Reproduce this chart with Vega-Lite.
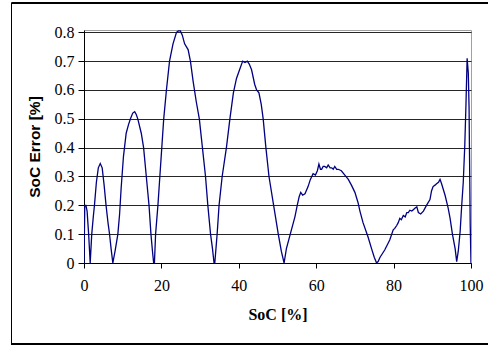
{
  "$schema": "https://vega.github.io/schema/vega-lite/v6.json",
  "width": 387,
  "height": 233,
  "autosize": {"type": "none"},
  "padding": {"left": 84, "top": 30, "right": 17, "bottom": 82},
  "background": "white",
  "config": {
    "view": {"stroke": "#a0a0a0", "strokeWidth": 1},
    "axis": {
      "labelFont": "Liberation Sans Narrow",
      "labelFontSize": 16,
      "labelColor": "#000",
      "domainColor": "#000",
      "tickColor": "#000",
      "titleColor": "#000"
    }
  },
  "data": {
    "values": [
      {"soc": 0, "err": 0}, {"soc": 0.2, "err": 0.2}, {"soc": 0.5, "err": 0.2}, {"soc": 0.8, "err": 0.18},
      {"soc": 1.2, "err": 0.1}, {"soc": 1.6, "err": 0}, {"soc": 2.0, "err": 0.1}, {"soc": 2.4, "err": 0.16},
      {"soc": 2.7, "err": 0.2}, {"soc": 3.2, "err": 0.28}, {"soc": 3.7, "err": 0.33}, {"soc": 4.2, "err": 0.345},
      {"soc": 4.7, "err": 0.33}, {"soc": 5.2, "err": 0.27}, {"soc": 5.7, "err": 0.2}, {"soc": 6.2, "err": 0.14},
      {"soc": 6.6, "err": 0.1}, {"soc": 7.0, "err": 0.05}, {"soc": 7.45, "err": 0}, {"soc": 8.07, "err": 0.045},
      {"soc": 8.75, "err": 0.1}, {"soc": 9.2, "err": 0.17}, {"soc": 9.6, "err": 0.26}, {"soc": 10.2, "err": 0.37},
      {"soc": 10.9, "err": 0.45}, {"soc": 11.5, "err": 0.48}, {"soc": 12.0, "err": 0.5}, {"soc": 12.6, "err": 0.52},
      {"soc": 13.1, "err": 0.525}, {"soc": 13.5, "err": 0.515}, {"soc": 13.9, "err": 0.5}, {"soc": 14.8, "err": 0.45},
      {"soc": 15.4, "err": 0.4}, {"soc": 16.1, "err": 0.3}, {"soc": 16.8, "err": 0.2}, {"soc": 17.3, "err": 0.1},
      {"soc": 17.7, "err": 0.04}, {"soc": 18.0, "err": 0}, {"soc": 18.2, "err": 0}, {"soc": 18.5, "err": 0.1},
      {"soc": 19.1, "err": 0.2}, {"soc": 19.6, "err": 0.3}, {"soc": 20.1, "err": 0.4}, {"soc": 20.6, "err": 0.5},
      {"soc": 21.3, "err": 0.6}, {"soc": 22.1, "err": 0.7}, {"soc": 23.0, "err": 0.76}, {"soc": 23.9, "err": 0.8},
      {"soc": 24.4, "err": 0.805}, {"soc": 24.9, "err": 0.805}, {"soc": 25.4, "err": 0.79}, {"soc": 26.0, "err": 0.76},
      {"soc": 26.9, "err": 0.74}, {"soc": 27.5, "err": 0.7}, {"soc": 28.2, "err": 0.63}, {"soc": 29.0, "err": 0.56},
      {"soc": 29.8, "err": 0.5}, {"soc": 30.6, "err": 0.4}, {"soc": 31.4, "err": 0.3}, {"soc": 32.0, "err": 0.2},
      {"soc": 32.7, "err": 0.1}, {"soc": 33.2, "err": 0.05}, {"soc": 33.6, "err": 0}, {"soc": 33.8, "err": 0},
      {"soc": 34.4, "err": 0.1}, {"soc": 34.9, "err": 0.2}, {"soc": 35.7, "err": 0.3}, {"soc": 36.8, "err": 0.4},
      {"soc": 37.7, "err": 0.5}, {"soc": 38.6, "err": 0.59}, {"soc": 39.4, "err": 0.64}, {"soc": 40.2, "err": 0.67},
      {"soc": 41.0, "err": 0.7}, {"soc": 41.6, "err": 0.695}, {"soc": 42.2, "err": 0.7}, {"soc": 42.7, "err": 0.69},
      {"soc": 43.3, "err": 0.67}, {"soc": 44.1, "err": 0.62}, {"soc": 44.6, "err": 0.6}, {"soc": 45.2, "err": 0.59},
      {"soc": 45.8, "err": 0.55}, {"soc": 46.3, "err": 0.5}, {"soc": 47.0, "err": 0.4}, {"soc": 47.8, "err": 0.3},
      {"soc": 49.0, "err": 0.2}, {"soc": 50.2, "err": 0.1}, {"soc": 51.0, "err": 0.04}, {"soc": 51.7, "err": 0},
      {"soc": 52.3, "err": 0.05}, {"soc": 53.3, "err": 0.1}, {"soc": 54.5, "err": 0.16}, {"soc": 55.1, "err": 0.2},
      {"soc": 55.6, "err": 0.23}, {"soc": 56.0, "err": 0.245}, {"soc": 56.5, "err": 0.235}, {"soc": 57.1, "err": 0.24},
      {"soc": 57.9, "err": 0.265}, {"soc": 58.5, "err": 0.29}, {"soc": 59.2, "err": 0.31}, {"soc": 59.8, "err": 0.305},
      {"soc": 60.3, "err": 0.32}, {"soc": 60.7, "err": 0.343}, {"soc": 61.1, "err": 0.325}, {"soc": 61.4, "err": 0.325},
      {"soc": 61.8, "err": 0.335}, {"soc": 62.2, "err": 0.335}, {"soc": 62.7, "err": 0.33}, {"soc": 63.1, "err": 0.34},
      {"soc": 63.6, "err": 0.33}, {"soc": 64.0, "err": 0.33}, {"soc": 64.4, "err": 0.325}, {"soc": 64.8, "err": 0.335},
      {"soc": 65.3, "err": 0.325}, {"soc": 65.7, "err": 0.325}, {"soc": 66.5, "err": 0.32}, {"soc": 67.4, "err": 0.305},
      {"soc": 68.3, "err": 0.29}, {"soc": 69.1, "err": 0.27}, {"soc": 70.0, "err": 0.245}, {"soc": 70.8, "err": 0.21},
      {"soc": 71.3, "err": 0.18}, {"soc": 72.1, "err": 0.14}, {"soc": 73.4, "err": 0.09}, {"soc": 74.3, "err": 0.05},
      {"soc": 75.0, "err": 0.02}, {"soc": 75.6, "err": 0}, {"soc": 76.0, "err": 0.005}, {"soc": 76.5, "err": 0.02},
      {"soc": 77.7, "err": 0.045}, {"soc": 79.0, "err": 0.08}, {"soc": 79.9, "err": 0.115}, {"soc": 80.3, "err": 0.12},
      {"soc": 80.8, "err": 0.13}, {"soc": 81.2, "err": 0.14}, {"soc": 81.6, "err": 0.155}, {"soc": 82.0, "err": 0.15},
      {"soc": 82.5, "err": 0.165}, {"soc": 83.0, "err": 0.16}, {"soc": 83.4, "err": 0.175}, {"soc": 83.8, "err": 0.175},
      {"soc": 84.2, "err": 0.183}, {"soc": 84.7, "err": 0.18}, {"soc": 85.1, "err": 0.185}, {"soc": 85.5, "err": 0.19},
      {"soc": 86.0, "err": 0.195}, {"soc": 86.4, "err": 0.175}, {"soc": 87.0, "err": 0.17}, {"soc": 87.7, "err": 0.18},
      {"soc": 88.5, "err": 0.2}, {"soc": 89.4, "err": 0.22}, {"soc": 89.8, "err": 0.25}, {"soc": 90.2, "err": 0.265},
      {"soc": 90.7, "err": 0.27}, {"soc": 91.1, "err": 0.275}, {"soc": 91.6, "err": 0.28}, {"soc": 92.0, "err": 0.29},
      {"soc": 92.4, "err": 0.275}, {"soc": 93.3, "err": 0.235}, {"soc": 94.1, "err": 0.19}, {"soc": 94.6, "err": 0.155},
      {"soc": 95.2, "err": 0.1}, {"soc": 95.9, "err": 0.05}, {"soc": 96.3, "err": 0.005}, {"soc": 96.7, "err": 0.04},
      {"soc": 97.2, "err": 0.11}, {"soc": 97.6, "err": 0.2}, {"soc": 98.0, "err": 0.28}, {"soc": 98.4, "err": 0.41},
      {"soc": 98.7, "err": 0.55}, {"soc": 99.0, "err": 0.71}, {"soc": 99.3, "err": 0.66}, {"soc": 99.5, "err": 0.54},
      {"soc": 99.6, "err": 0.4}, {"soc": 99.8, "err": 0.13}, {"soc": 100, "err": 0}
    ]
  },
  "encoding": {
    "x": {
      "field": "soc",
      "type": "quantitative",
      "scale": {"domain": [0, 100], "nice": false},
      "axis": {
        "values": [0, 20, 40, 60, 80, 100],
        "title": "SoC [%]",
        "titleFont": "Liberation Sans Narrow",
        "titleFontSize": 16,
        "titleFontWeight": "bold",
        "titlePadding": 13,
        "grid": false,
        "tickSize": 5,
        "labelPadding": 9,
        "labelFlush": false
      }
    },
    "y": {
      "field": "err",
      "type": "quantitative",
      "scale": {"domain": [0, 0.808], "nice": false, "zero": true},
      "axis": {
        "values": [0, 0.1, 0.2, 0.3, 0.4, 0.5, 0.6, 0.7, 0.8],
        "format": ".1~f",
        "title": "SoC Error [%]",
        "titleFont": "Liberation Sans",
        "titleFontSize": 15.5,
        "titleFontWeight": "bold",
        "titlePadding": 12,
        "grid": true,
        "gridColor": "#000",
        "gridWidth": 1.2,
        "gridOpacity": 0.85,
        "tickSize": 6,
        "labelPadding": 4
      }
    }
  },
  "layer": [
    {
      "mark": {"type": "rect", "fill": null, "stroke": "#000", "strokeWidth": 1, "clip": false},
      "encoding": {
        "x": {"datum": -18.73},
        "x2": {"datum": 108},
        "y": {"datum": 0.8999},
        "y2": {"datum": -0.2809}
      }
    },
    {
      "mark": {"type": "line", "color": "#000080", "strokeWidth": 1.3, "clip": true}
    }
  ]
}
